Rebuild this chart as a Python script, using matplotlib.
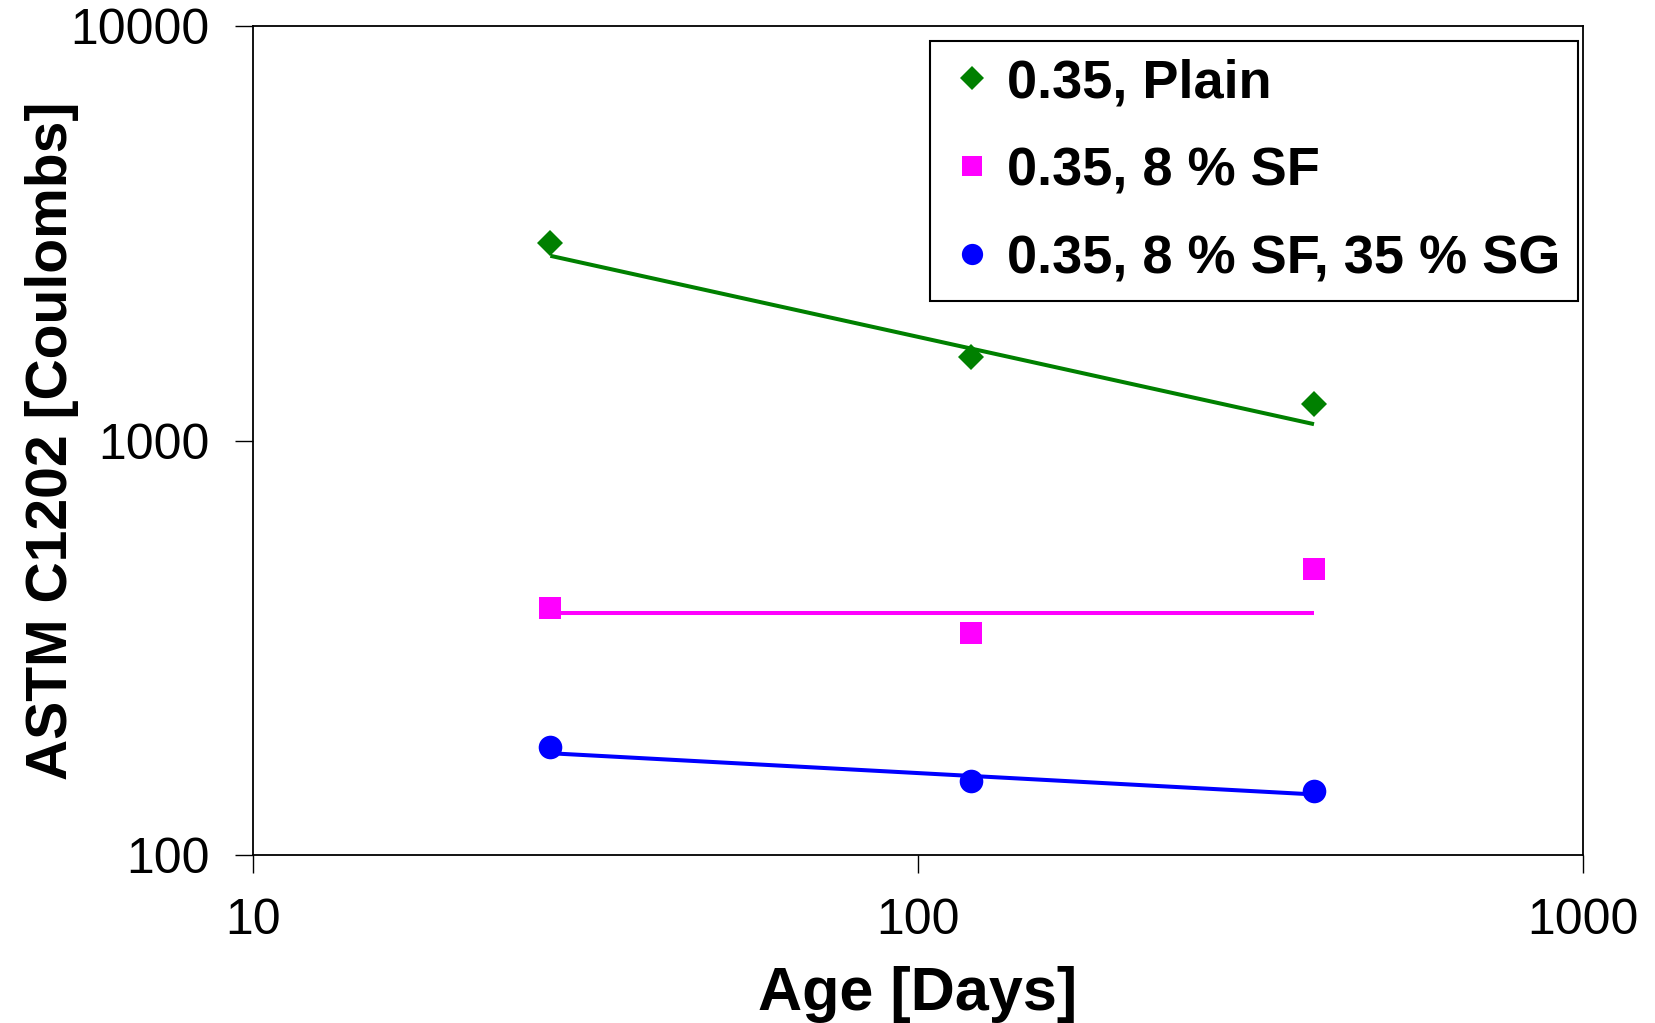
import matplotlib
matplotlib.use("Agg")
import matplotlib.pyplot as plt
from matplotlib.ticker import FixedLocator, NullLocator, FixedFormatter

plt.rcParams['font.family'] = ['Liberation Sans', 'DejaVu Sans']

# Data
age_days = [28, 120, 394]
plain = [3000, 1590, 1225]
sf8 = [394, 343, 490]
sf8_sg35 = [182, 151, 143]

# Trend line end values (at first and last age)
trend_plain = [2790, 1095]
trend_sf8 = [384, 384]
trend_sf8_sg35 = [176, 140]

labels = ["0.35, Plain", "0.35, 8 % SF", "0.35, 8 % SF, 35 % SG"]
colors = ["#008000", "#FF00FF", "#0000FF"]

x_ticks = [10, 100, 1000]
x_ticklabels = ["10", "100", "1000"]
y_ticks = [100, 1000, 10000]
y_ticklabels = ["100", "1000", "10000"]

fig = plt.figure(figsize=(16.55, 10.23), dpi=100)
ax = fig.add_axes([0.15287, 0.16422, 0.80363, 0.81036])
ax.set_xscale('log')
ax.set_yscale('log')
ax.set_xlim(10, 1000)
ax.set_ylim(100, 10000)

ends = [age_days[0], age_days[-1]]
for trend, c in zip([trend_plain, trend_sf8, trend_sf8_sg35], colors):
    ax.plot(ends, trend, color=c, lw=2.9, solid_capstyle='butt', zorder=2)

ax.plot(age_days, plain, linestyle='none', marker='D', markersize=13.5,
        color=colors[0], markeredgewidth=0, label=labels[0], zorder=3)
ax.plot(age_days, sf8, linestyle='none', marker='s', markersize=16.5,
        color=colors[1], markeredgewidth=0, label=labels[1], zorder=3)
ax.plot(age_days, sf8_sg35, linestyle='none', marker='o', markersize=17,
        color=colors[2], markeredgewidth=0, label=labels[2], zorder=3)

ax.xaxis.set_major_locator(FixedLocator(x_ticks))
ax.xaxis.set_major_formatter(FixedFormatter(x_ticklabels))
ax.xaxis.set_minor_locator(NullLocator())
ax.yaxis.set_major_locator(FixedLocator(y_ticks))
ax.yaxis.set_major_formatter(FixedFormatter(y_ticklabels))
ax.yaxis.set_minor_locator(NullLocator())

ax.tick_params(axis='both', which='major', direction='out', length=13,
               width=1.0, labelsize=36, pad=18, color='black')
for s in ax.spines.values():
    s.set_linewidth(1.3)
    s.set_color('black')

ax.set_xlabel("Age [Days]", fontsize=44, fontweight='bold')
ax.set_ylabel("ASTM C1202 [Coulombs]", fontsize=41, fontweight='bold')
ax.xaxis.set_label_coords(0.5, -0.134)
ax.yaxis.set_label_coords(-0.131, 0.5)

leg = ax.legend(loc='upper right', bbox_to_anchor=(0.996, 0.982),
                borderaxespad=0, fancybox=False, frameon=True,
                prop={'size': 39, 'weight': 'bold'}, handlelength=0.9,
                handletextpad=0.2, labelspacing=0.7, borderpad=0.32,
                markerscale=0.9, numpoints=1)
leg.get_frame().set_edgecolor('black')
leg.get_frame().set_linewidth(1.5)
leg.get_frame().set_alpha(1)

fig.savefig("out.png", dpi=100, facecolor='white')
